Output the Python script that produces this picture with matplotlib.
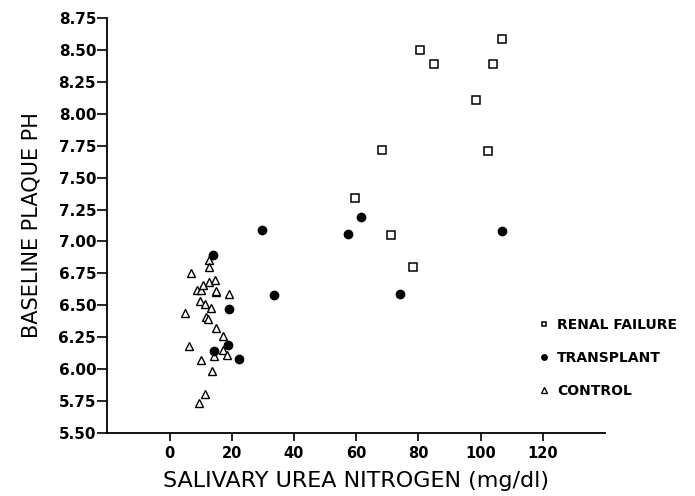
import matplotlib
matplotlib.use("Agg")
import matplotlib.pyplot as plt

# salivary urea nitrogen (mg/dl) vs baseline plaque pH
renal_x = [107.0, 80.5, 85.2, 104.1, 98.5, 68.2, 102.3, 59.8, 71.3, 78.2]
renal_y = [8.59, 8.50, 8.39, 8.39, 8.11, 7.72, 7.71, 7.34, 7.05, 6.80]

transplant_x = [61.5, 29.7, 57.4, 107.0, 33.7, 74.2, 13.9, 19.0, 14.3, 18.9, 22.5]
transplant_y = [7.19, 7.09, 7.06, 7.08, 6.58, 6.59, 6.89, 6.47, 6.14, 6.19, 6.08]

control_x = [12.6, 12.6, 7.0, 8.8, 10.0, 10.8, 12.8, 14.6, 15.0, 15.0, 19.0,
             9.8, 11.3, 13.3, 5.0, 11.6, 12.5, 15.0, 17.1, 6.3, 17.3, 14.3,
             18.4, 10.2, 13.7, 11.5, 9.4]
control_y = [6.85, 6.80, 6.75, 6.62, 6.62, 6.66, 6.68, 6.70, 6.60, 6.61, 6.59,
             6.53, 6.51, 6.48, 6.44, 6.41, 6.39, 6.32, 6.26, 6.18, 6.15, 6.10,
             6.11, 6.07, 5.98, 5.80, 5.73]

x_ticks = [0, 20, 40, 60, 80, 100, 120]
y_ticks = [5.50, 5.75, 6.00, 6.25, 6.50, 6.75, 7.00, 7.25, 7.50, 7.75, 8.00, 8.25, 8.50, 8.75]

fig = plt.figure(figsize=(6.95, 4.96), dpi=100)
ax = fig.add_axes([0.1544, 0.128, 0.716, 0.835])

ax.plot(renal_x, renal_y, ls="none", marker="s", ms=5.5, mfc="white", mec="black",
        mew=1.1, label="RENAL FAILURE")
ax.plot(control_x, control_y, ls="none", marker="^", ms=6, mfc="white", mec="black",
        mew=1.0, label="CONTROL")
ax.plot(transplant_x, transplant_y, ls="none", marker="o", ms=6, mfc="black", mec="black",
        label="TRANSPLANT")

ax.set_xlim(-20, 140)
ax.set_ylim(5.5, 8.75)
ax.set_xticks(x_ticks)
ax.set_yticks(y_ticks)
ax.set_yticklabels([f"{v:.2f}" for v in y_ticks], fontsize=11, fontweight="bold")
ax.set_xticklabels([str(v) for v in x_ticks], fontsize=10.5, fontweight="bold")

for side in ("top", "right"):
    ax.spines[side].set_visible(False)
for side in ("left", "bottom"):
    ax.spines[side].set_linewidth(1.3)
ax.tick_params(axis="y", length=7, width=1.2, pad=1)
ax.tick_params(axis="x", length=6, width=1.2, pad=4)

ax.set_xlabel("SALIVARY UREA NITROGEN (mg/dl)", fontsize=16, labelpad=7)
ax.set_ylabel("BASELINE PLAQUE PH", fontsize=15, labelpad=12)

handles, labels = ax.get_legend_handles_labels()
order = [0, 2, 1]
ax.legend([handles[i] for i in order], [labels[i] for i in order],
          loc="center left", bbox_to_anchor=(0.842, 0.18), frameon=False,
          markerscale=0.65, handlelength=0.8, handletextpad=0.5,
          labelspacing=1.35, prop={"size": 10, "weight": "bold"})

fig.savefig("out.png", dpi=100)
